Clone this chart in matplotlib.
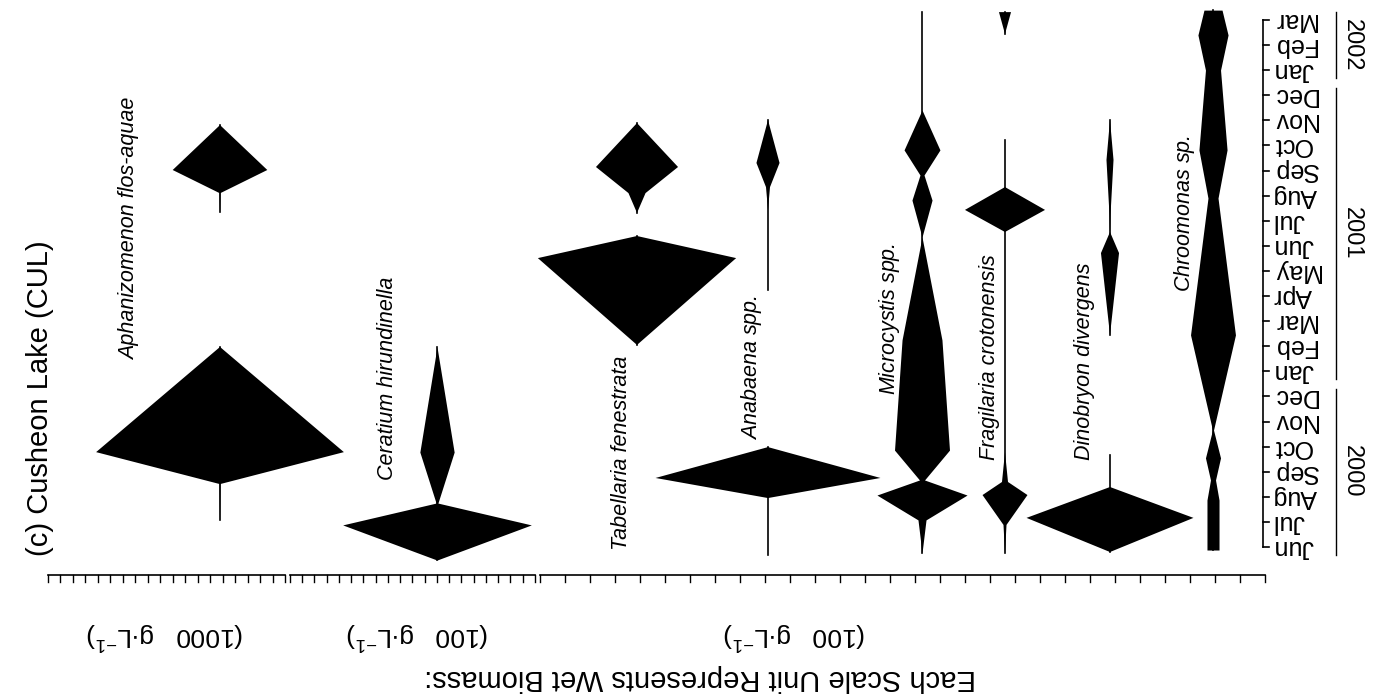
import numpy as np
import matplotlib
matplotlib.use('Agg')
import matplotlib.pyplot as plt

plt.rcParams['font.family'] = ['Liberation Sans', 'DejaVu Sans']
plt.rcParams['mathtext.fontset'] = 'custom'
plt.rcParams['mathtext.rm'] = 'Liberation Sans'
plt.rcParams['mathtext.it'] = 'Liberation Sans:italic'

# time axis: months since Jun 2000 (0 = Jun 2000 ... 21 = Mar 2002)
months = ['Jun', 'Jul', 'Aug', 'Sep', 'Oct', 'Nov', 'Dec',
          'Jan', 'Feb', 'Mar', 'Apr', 'May', 'Jun', 'Jul', 'Aug', 'Sep', 'Oct', 'Nov', 'Dec',
          'Jan', 'Feb', 'Mar']
years = ['2000', '2001', '2002']
year_first = [0, 7, 19]
year_last = [6, 18, 21]

nan = np.nan
# kite data: sample time (months) and biomass in scale units (nan = break)
aph_t = [1.08, 2.51, 3.78, 7.97, nan, 13.35, 14.10, 15.02, 16.81]
aph_v = [0, 0.08, 19.9, 0, nan, 0, 0.08, 7.6, 0]

cer_t = [-0.52, 0.88, 1.75, 3.78, 7.97]
cer_v = [0, 15.4, 0.15, 2.8, 0]

tab_t = [8.05, 11.51, 12.39, nan, 13.31, 14.10, 15.14, 16.89]
tab_v = [0, 7.9, 0, nan, 0, 0.68, 3.27, 0]

ana_t = [-0.32, 1.95, 2.75, 3.98, nan, 10.24, 13.43, 14.34, 15.30, 17.01]
ana_v = [0, 0, 8.96, 0, nan, 0, 0, 0.16, 0.92, 0]

mic_t = [-0.24, 1.08, 2.07, 2.67, 3.86, 8.25, 12.35, 13.82, 14.82, 15.82, 17.41, 21.31]
mic_v = [0, 0.32, 3.59, 0.2, 2.19, 1.59, 0, 0.8, 0.16, 1.43, 0, 0]

fra_t = [-0.24, 0.88, 2.07, 2.59, 3.78, 12.55, 13.43, 14.34, 16.22, nan, 20.44, 21.31]
fra_v = [0, 0.12, 1.79, 0.24, 0, 0, 3.19, 0, 0, nan, 0, 0.48]

din_t = [-0.20, 1.16, 2.39, 3.67, nan, 8.45, 11.71, 12.55, 13.23, 15.42, 17.01]
din_v = [0, 6.65, 0, 0, nan, 0, 0.72, 0, 0.04, 0.28, 0]

chr_t = [-0.12, 1.87, 2.67, 3.55, 4.66, 8.45, 13.90, 15.82, 19.0, 20.40, 21.39]
chr_v = [0.48, 0.48, 0.2, 0.6, 0.04, 1.79, 0.4, 1.12, 0.6, 1.2, 0.72]

# scale ruler segments (px per scale unit)
seg_unit = [12.45, 12.25, 25.1]

W, H = 1381, 698
Y0, PXM = 547, 25.1   # pixel row of Jun 2000, pixels per month

fig = plt.figure(figsize=(W / 100, H / 100), dpi=100)
lay = fig.add_axes([0, 0, 1, 1])
lay.set_xlim(0, W)
lay.set_ylim(H, 0)
lay.axis('off')
ax = fig.add_axes([0, 0, 1, 1])
ax.set_xlim(0, W)
ax.set_ylim((Y0 - H) / PXM, Y0 / PXM)
ax.axis('off')
ax.patch.set_alpha(0)

species = [
    (aph_t, aph_v, 220, seg_unit[0]),
    (cer_t, cer_v, 437, seg_unit[1]),
    (tab_t, tab_v, 637, seg_unit[2]),
    (ana_t, ana_v, 768, seg_unit[2]),
    (mic_t, mic_v, 922, seg_unit[2]),
    (fra_t, fra_v, 1005, seg_unit[2]),
    (din_t, din_v, 1110, seg_unit[2]),
    (chr_t, chr_v, 1213, seg_unit[2]),
]
for t, v, cx, unit in species:
    t = np.array(t, dtype=float)
    half = np.array(v, dtype=float) * unit / 2
    ax.fill_betweenx(t, cx - half, cx + half, color='black', lw=0)
    ax.plot(np.where(np.isnan(half), nan, cx), t, color='black', lw=1.2)

# month axis
ax_x = 1263
ax.plot([ax_x, ax_x], [0, len(months) - 1], color='black', lw=1.2)
for i, m in enumerate(months):
    ax.plot([ax_x, ax_x + 6], [i, i], color='black', lw=1.2)
    ax.text(1273, i, m, rotation=180, ha='left', va='center', fontsize=18)
for yr, a, b in zip(years, year_first, year_last):
    ax.plot([1336, 1336], [a - 0.3, b + 0.3], color='black', lw=1)
    ax.text(1352, (a + b) / 2, yr, rotation=270, ha='center', va='center', fontsize=17)

# scale ruler
ry = 575
for (x0, x1, n) in [(48, 285, 19), (290, 535, 20), (540, 1265, 29)]:
    lay.plot([x0, x1], [ry, ry], color='black', lw=1.2)
    for xt in np.linspace(x0, x1, n + 1):
        lay.plot([xt, xt], [ry, ry + 7], color='black', lw=1)

lay.text(165, 635, r'(1000   g$\bullet$L$^{-1}$)', rotation=180, ha='center', va='center', fontsize=19)
lay.text(418, 635, r'(100   g$\bullet$L$^{-1}$)', rotation=180, ha='center', va='center', fontsize=19)
lay.text(795, 635, r'(100   g$\bullet$L$^{-1}$)', rotation=180, ha='center', va='center', fontsize=19)
lay.text(700, 678, 'Each Scale Unit Represents Wet Biomass:', rotation=180,
         ha='center', va='center', fontsize=21)

# species labels
labels = [
    ('Aphanizomenon flos-aquae', 130, 360),
    ('Ceratium hirundinella', 388, 480),
    ('Tabellaria fenestrata', 622, 550),
    (r'$\mathit{Anabaena}$ spp.', 752, 440),
    (r'$\mathit{Microcystis}$ spp.', 890, 395),
    ('Fragilaria crotonensis', 990, 460),
    ('Dinobryon divergens', 1085, 460),
    (r'$\mathit{Chroomonas}$ sp.', 1185, 292),
]
for txt, x, y in labels:
    lay.text(x, y, txt, rotation=90, ha='center', va='bottom', fontsize=15.5,
             fontstyle='italic')
lay.text(40, 556, '(c) Cusheon Lake (CUL)', rotation=90, ha='center', va='bottom', fontsize=21)

fig.savefig('out.png', dpi=100, facecolor='white')
